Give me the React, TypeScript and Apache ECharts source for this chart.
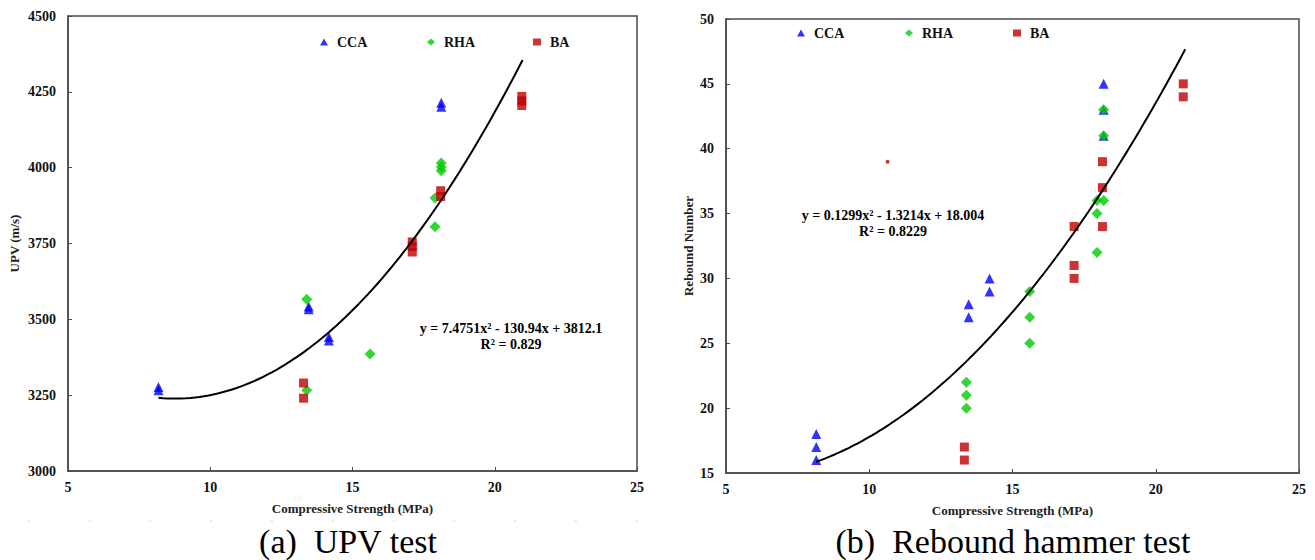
import React, { useEffect, useRef } from "react";
import * as echarts from "echarts";

// Axis ticks
const strengthTicks = [5, 10, 15, 20, 25];
const upvTicks = [3000, 3250, 3500, 3750, 4000, 4250, 4500];
const reboundTicks = [15, 20, 25, 30, 35, 40, 45, 50];

// UPV (m/s) against compressive strength (MPa)
const ccaUpv = [
  [8.18, 3277], [8.18, 3266], [13.46, 3542], [13.46, 3533],
  [14.17, 3442], [14.17, 3430], [18.12, 4214], [18.12, 4201],
];
const rhaUpv = [
  [13.39, 3566], [13.39, 3266], [15.62, 3386], [17.9, 3900],
  [17.9, 3805], [18.12, 4015], [18.12, 4002], [18.12, 3990],
];
const baUpv = [
  [13.28, 3290], [13.28, 3240], [17.1, 3755], [17.1, 3740], [17.1, 3722],
  [18.1, 3924], [18.1, 3905], [20.95, 4235], [20.95, 4220], [20.95, 4205],
];

// Rebound number against compressive strength (MPa)
const ccaRebound = [
  [8.15, 18], [8.15, 17], [8.15, 16], [13.47, 28], [13.47, 27],
  [14.2, 30], [14.2, 29], [18.18, 45], [18.18, 43], [18.18, 41],
];
const rhaRebound = [
  [13.39, 22], [13.39, 21], [13.39, 20], [15.6, 29], [15.6, 27], [15.6, 25],
  [17.95, 36], [17.95, 35], [17.95, 32], [18.18, 43], [18.18, 41], [18.18, 36],
];
const baRebound = [
  [13.32, 17], [13.32, 16], [17.15, 34], [17.15, 31], [17.15, 30],
  [18.14, 39], [18.14, 37], [18.14, 34], [20.96, 45], [20.96, 44],
];
const baReboundStray = [10.64, 39];

// Second-order trendlines: [a, b, c] for y = a·x² + b·x + c, drawn over [xStart, xEnd]
const upvFit = [7.4751, -130.94, 3812.1];
const upvFitRange = [8.18, 20.98];
const reboundFit = [0.1299, -1.3214, 18.004];
const reboundFitRange = [8.15, 21.03];

const upvEquation = ["y = 7.4751x² - 130.94x + 3812.1", "R² = 0.829"];
const reboundEquation = ["y = 0.1299x² - 1.3214x + 18.004", "R² = 0.8229"];

const FONT = "Liberation Serif";
const BLUE = "#0000FF";
const GREEN = "#00CC00";
const RED = "#C00000";
const AXIS = "#4a4a4a";

function fitCurve(coef: number[], range: number[]) {
  const pts: number[][] = [];
  const steps = 80;
  for (let i = 0; i <= steps; i++) {
    const x = range[0] + ((range[1] - range[0]) * i) / steps;
    pts.push([x, coef[0] * x * x + coef[1] * x + coef[2]]);
  }
  return pts;
}

function axisPair(gridIndex: number, yTicks: number[], yName: string, yGap: number) {
  const common = {
    gridIndex,
    axisLine: { show: true, lineStyle: { color: AXIS, width: 1.5 } },
    axisTick: { show: true, inside: true, length: 4, lineStyle: { color: AXIS } },
    splitLine: { show: false },
    nameTextStyle: { fontFamily: FONT, fontWeight: "bold", fontSize: 13, color: "#222" },
  };
  const labelStyle = { fontFamily: FONT, fontWeight: "bold", fontSize: 14, color: "#111", formatter: (v: number) => String(v) };
  const x = {
    ...common,
    type: "value",
    min: strengthTicks[0],
    max: strengthTicks[strengthTicks.length - 1],
    interval: strengthTicks[1] - strengthTicks[0],
    name: "Compressive Strength (MPa)",
    nameLocation: "middle",
    nameGap: 31,
    axisLabel: { ...labelStyle, margin: 9 },
  };
  const y = {
    ...common,
    type: "value",
    min: yTicks[0],
    max: yTicks[yTicks.length - 1],
    interval: yTicks[1] - yTicks[0],
    name: yName,
    nameLocation: "middle",
    nameGap: yGap,
    axisLabel: { ...labelStyle, margin: 12 },
  };
  return { x, y };
}

function scatter(name: string, data: any[], idx: number, symbol: string, color: string, size: number) {
  return {
    type: "scatter",
    name,
    data,
    xAxisIndex: idx,
    yAxisIndex: idx,
    symbol,
    symbolSize: size,
    itemStyle: { color },
    z: 2,
  };
}

function trend(data: number[][], idx: number) {
  return {
    type: "line",
    data,
    xAxisIndex: idx,
    yAxisIndex: idx,
    showSymbol: false,
    smooth: false,
    lineStyle: { color: "#000", width: 2 },
    z: 3,
    silent: true,
  };
}

function legendItem(name: string, icon: string, left: number, top: number) {
  return {
    data: [{ name, icon }],
    left,
    top,
    padding: 0,
    itemWidth: 8,
    itemHeight: 7,
    textStyle: {
      fontFamily: FONT,
      fontWeight: "bold",
      fontSize: 14,
      color: "#111",
      padding: [0, 0, 0, 4],
      lineHeight: 14,
    },
    selectedMode: false,
  };
}

function eqText(lines: string[], cx: number, y1: number, y2: number) {
  const style = { fontFamily: FONT, fontWeight: "bold", fontSize: 14, fill: "#000", textAlign: "center", textVerticalAlign: "middle" };
  return [
    { type: "text", x: cx, y: y1, style: { ...style, text: lines[0] } },
    { type: "text", x: cx, y: y2, style: { ...style, text: lines[1] } },
  ];
}

export default function App() {
  const ref = useRef<HTMLDivElement>(null);

  useEffect(() => {
    if (!ref.current) return;
    const chart = echarts.init(ref.current, undefined, { renderer: "svg" });

    const left = axisPair(0, upvTicks, "UPV (m/s)", 47);
    const right = axisPair(1, reboundTicks, "Rebound Number", 31);

    const captionStyle = { fontFamily: FONT, fontSize: 34, fill: "#000", textAlign: "center", textVerticalAlign: "middle" };

    chart.setOption({
      animation: false,
      backgroundColor: "#fff",
      textStyle: { fontFamily: FONT },
      grid: [
        { left: 68, top: 16, width: 569, height: 455, show: true, borderColor: AXIS, borderWidth: 1.5, backgroundColor: "transparent" },
        { left: 726, top: 19, width: 573, height: 454, show: true, borderColor: AXIS, borderWidth: 1.5, backgroundColor: "transparent" },
      ],
      xAxis: [left.x, right.x],
      yAxis: [left.y, right.y],
      legend: [
        legendItem("CCA", "triangle", 320, 35),
        legendItem("RHA", "diamond", 427, 35),
        legendItem("BA", "rect", 533, 35),
        legendItem("CCA", "triangle", 797, 26),
        legendItem("RHA", "diamond", 905, 26),
        legendItem("BA", "rect", 1013, 26),
      ],
      series: [
        scatter("CCA", ccaUpv, 0, "triangle", BLUE, 10),
        scatter("RHA", rhaUpv, 0, "diamond", GREEN, 11),
        scatter("BA", baUpv, 0, "rect", RED, 9),
        trend(fitCurve(upvFit, upvFitRange), 0),
        scatter("CCA", ccaRebound, 1, "triangle", BLUE, 10),
        scatter("RHA", rhaRebound, 1, "diamond", GREEN, 11),
        scatter(
          "BA",
          [...baRebound, { value: baReboundStray, symbol: "circle", symbolSize: 4 }],
          1,
          "rect",
          RED,
          9
        ),
        trend(fitCurve(reboundFit, reboundFitRange), 1),
      ],
      graphic: [
        ...eqText(upvEquation, 511, 328, 344),
        ...eqText(reboundEquation, 893, 215, 231),
        { type: "text", x: 348, y: 541.5, style: { ...captionStyle, text: "(a)\u00a0 UPV test" } },
        { type: "text", x: 1013, y: 541.5, style: { ...captionStyle, text: "(b)\u00a0 Rebound hammer test" } },
        {
          type: "line",
          shape: { x1: 28, y1: 521, x2: 640, y2: 521 },
          style: { stroke: "#d8d8d8", lineWidth: 1.5, lineDash: [1.5, 59.3] },
          silent: true,
        },
      ],
    });

    return () => chart.dispose();
  }, []);

  return (
    <div
      ref={ref}
      style={{ position: "fixed", left: 0, top: 0, width: 1315, height: 560, background: "#fff" }}
    />
  );
}
